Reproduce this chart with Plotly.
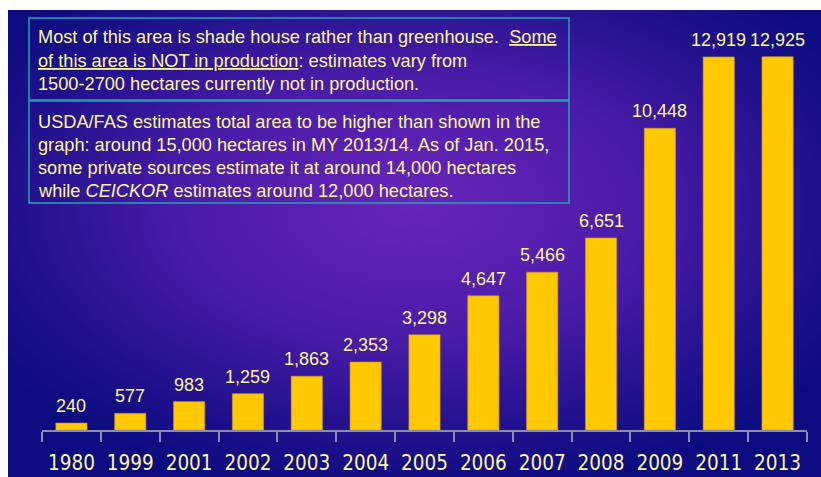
import base64
import plotly.graph_objects as go

years = ["1980", "1999", "2001", "2002", "2003", "2004", "2005", "2006", "2007", "2008", "2009", "2011", "2013"]
hectares = [240, 577, 983, 1259, 1863, 2353, 3298, 4647, 5466, 6651, 10448, 12919, 12925]

box1_lines = [
    "Most of this area is shade house rather than greenhouse.  <u>Some</u>",
    "<u>of this area is NOT in production</u>: estimates vary from",
    "1500-2700 hectares currently not in production.",
]
box2_lines = [
    "USDA/FAS estimates total area to be higher than shown in the",
    "graph: around 15,000 hectares in MY 2013/14. As of Jan. 2015,",
    "some private sources estimate it at around 14,000 hectares",
    "while <i>CEICKOR</i> estimates around 12,000 hectares.",
]

W, H = 821, 477
L, R, T, B = 42, 14, 20, 47
PW, PH = W - L - R, H - T - B
YMAX = 14197

def px_x(px):
    return (px - L) / PW

def px_y(py):
    return (H - B - py) / PH

TXT = "#fbf6a2"
FONT_TXT = "Comic Sans MS, Liberation Sans, Arial, sans-serif"

svg = """<svg xmlns='http://www.w3.org/2000/svg' width='813' height='467' viewBox='0 0 813 467' preserveAspectRatio='none'>
<defs><radialGradient id='g' cx='0.5' cy='0.42' r='0.62' fx='0.5' fy='0.42'>
<stop offset='0' stop-color='#6a24ba'/>
<stop offset='0.45' stop-color='#4a1ca8'/>
<stop offset='0.8' stop-color='#20118c'/>
<stop offset='1' stop-color='#0c0c80'/>
</radialGradient></defs>
<rect x='0' y='0' width='813' height='467' fill='url(#g)'/></svg>"""
bg_src = "data:image/svg+xml;base64," + base64.b64encode(svg.encode()).decode()

fig = go.Figure()
fig.add_trace(go.Bar(
    x=years, y=hectares,
    marker=dict(color="#ffc800", line=dict(width=0.6, color="#c89a10")),
    width=0.53,
    hoverinfo="skip",
))

annotations = []
for i, v in enumerate(hectares):
    annotations.append(dict(
        x=i, y=v, xref="x", yref="y", text=f"{v:,}", showarrow=False,
        yanchor="bottom", yshift=5,
        font=dict(family=FONT_TXT, size=18, color=TXT),
    ))

box1_y = [37, 61, 84]
box2_y = [122, 145, 168, 191]
for lines, ys in ((box1_lines, box1_y), (box2_lines, box2_y)):
    for line, py in zip(lines, ys):
        annotations.append(dict(
            x=px_x(36), y=px_y(py), xref="paper", yref="paper", text=line,
            showarrow=False, xanchor="left", yanchor="middle", align="left",
            font=dict(family=FONT_TXT, size=18.2, color=TXT),
        ))

shapes = [
    dict(type="rect", xref="paper", yref="paper", x0=px_x(29), x1=px_x(569),
         y0=px_y(100), y1=px_y(18), line=dict(color="#22a4b4", width=1.5), layer="above"),
    dict(type="rect", xref="paper", yref="paper", x0=px_x(29), x1=px_x(569),
         y0=px_y(203), y1=px_y(101), line=dict(color="#22a4b4", width=1.5), layer="above"),
]

fig.update_layout(
    width=W, height=H,
    margin=dict(l=L, r=R, t=T, b=B, pad=0),
    paper_bgcolor="white", plot_bgcolor="rgba(0,0,0,0)",
    showlegend=False,
    annotations=annotations,
    shapes=shapes,
    images=[dict(source=bg_src, xref="paper", yref="paper",
                 x=px_x(8), y=px_y(10), sizex=(W - 8) / PW, sizey=(H - 10) / PH,
                 xanchor="left", yanchor="top", sizing="stretch", layer="below")],
    xaxis=dict(
        type="category", showgrid=False, zeroline=False, automargin=False,
        range=[-0.5, len(years) - 0.5], tickangle=0,
        showline=True, linecolor="#8c8cac", linewidth=2,
        ticks="outside", ticklen=10, tickwidth=2, tickcolor="#8c8cac",
        tickson="boundaries", ticklabelstandoff=13,
        tickfont=dict(family="DejaVu Sans Condensed, Liberation Sans, Arial, sans-serif", size=20.5, color=TXT),
    ),
    yaxis=dict(range=[0, YMAX], visible=False, showgrid=False, zeroline=False, automargin=False),
)

fig.write_html("out.html")
